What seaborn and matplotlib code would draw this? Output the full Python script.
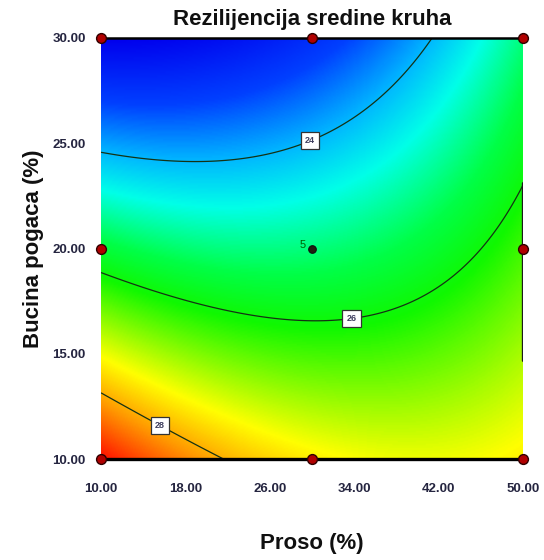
import numpy as np
import pandas as pd
import matplotlib
matplotlib.use("Agg")
import matplotlib.pyplot as plt
from matplotlib.colors import LinearSegmentedColormap
import seaborn as sns

# Factor ranges
proso_range = [10.0, 50.0]      # Proso (%)
bucina_range = [10.0, 30.0]     # Bucina pogaca (%)

# Quadratic response model in coded units (u = proso, v = bucina):
# b0, b_u, b_v, b_uu, b_vv, b_uv
model_coef = [25.2, 0.375, -2.33, 0.775, 0.0, 1.17]

# Contour levels shown on the plot
contour_levels = [24, 26, 28]
label_positions = [(29.8, 25.15), (33.6, 17.2), (16.0, 12.0)]

# Design points (center point replicated)
design_proso = [10, 10, 10, 30, 30, 50, 50, 50]
design_bucina = [10, 20, 30, 10, 30, 10, 20, 30]
center_proso = [30]
center_bucina = [20]
center_runs = 5

x_ticks = [10.00, 18.00, 26.00, 34.00, 42.00, 50.00]
y_ticks = [10.00, 15.00, 20.00, 25.00, 30.00]

sns.set_style("white")
plt.rcParams["font.family"] = ["Liberation Sans", "DejaVu Sans"]

fig = plt.figure(figsize=(5.44, 5.60), dpi=100)
ax = fig.add_axes([101 / 544, 1 - 459 / 560, 422 / 544, 421 / 560])

xs = np.linspace(proso_range[0], proso_range[1], 300)
ys = np.linspace(bucina_range[0], bucina_range[1], 300)
X, Y = np.meshgrid(xs, ys)
U = (X - 30.0) / 20.0
V = (Y - 20.0) / 10.0
b0, bu, bv, buu, bvv, buv = model_coef
Z = b0 + bu * U + bv * V + buu * U**2 + bvv * V**2 + buv * U * V

de_cmap = LinearSegmentedColormap.from_list(
    "de", [(0.0, "#0000ee"), (0.15, "#0040ff"), (0.27, "#00b8ff"),
           (0.36, "#00ffe8"), (0.48, "#00ff48"), (0.57, "#10f800"),
           (0.76, "#ffff00"), (0.87, "#ff9800"), (1.0, "#ff1000")], N=256)

ax.imshow(Z, origin="lower", aspect="auto", cmap=de_cmap,
          extent=[proso_range[0], proso_range[1], bucina_range[0], bucina_range[1]],
          interpolation="bilinear", zorder=0)

cs = ax.contour(X, Y, Z, levels=contour_levels, colors="#143214", linewidths=0.9, zorder=2)
labels = ax.clabel(cs, fmt="%d", fontsize=6.5, manual=label_positions, inline=False)
for t in labels:
    t.set_rotation(0)
    t.set_bbox(dict(boxstyle="square,pad=0.45", facecolor="white", edgecolor="#333333", linewidth=0.9))
    t.set_color("#404060")
    t.set_fontweight("bold")

# dark edge line on the right boundary
ax.axvline(50, ymin=(14.7 - 10) / 20, ymax=(23.1 - 10) / 20, color="#1a1a1a", lw=2.4, zorder=3)

pts = pd.DataFrame({"Proso": design_proso, "Bucina": design_bucina})
sns.scatterplot(data=pts, x="Proso", y="Bucina", ax=ax, s=50, color="#b00000",
                edgecolor="#300000", linewidth=1.0, zorder=5, clip_on=False, legend=False)
ctr = pd.DataFrame({"Proso": center_proso, "Bucina": center_bucina})
sns.scatterplot(data=ctr, x="Proso", y="Bucina", ax=ax, s=30, color="#202010",
                edgecolor="#101010", linewidth=0.8, zorder=5, legend=False)
ax.text(29.4, 20.15, str(center_runs), fontsize=8, color="#006000", ha="right", va="center", zorder=6)

ax.set_xlim(proso_range)
ax.set_ylim(bucina_range)
ax.set_xticks(x_ticks)
ax.set_yticks(y_ticks)
ax.set_xticklabels([f"{v:.2f}" for v in x_ticks])
ax.set_yticklabels([f"{v:.2f}" for v in y_ticks])
ax.tick_params(axis="both", direction="out", length=8, width=1.6, color="black",
               labelsize=9.5, labelcolor="#252540", pad=3)
ax.tick_params(axis="x", pad=9)
for lab in ax.get_xticklabels() + ax.get_yticklabels():
    lab.set_fontweight("bold")

for side in ["left", "right"]:
    ax.spines[side].set_visible(False)
ax.spines["bottom"].set_linewidth(2.4)
ax.spines["bottom"].set_color("black")
ax.spines["top"].set_linewidth(1.8)
ax.spines["top"].set_color("black")

ax.set_xlabel("Proso (%)", fontsize=16, fontweight="bold", labelpad=28, color="#101010")
ax.set_ylabel("Bucina pogaca (%)", fontsize=16, fontweight="bold", labelpad=6, color="#101010")
ax.set_title("Rezilijencija sredine kruha", fontsize=16, fontweight="bold", pad=9.5, color="#101010")

fig.savefig("out.png", dpi=100)
